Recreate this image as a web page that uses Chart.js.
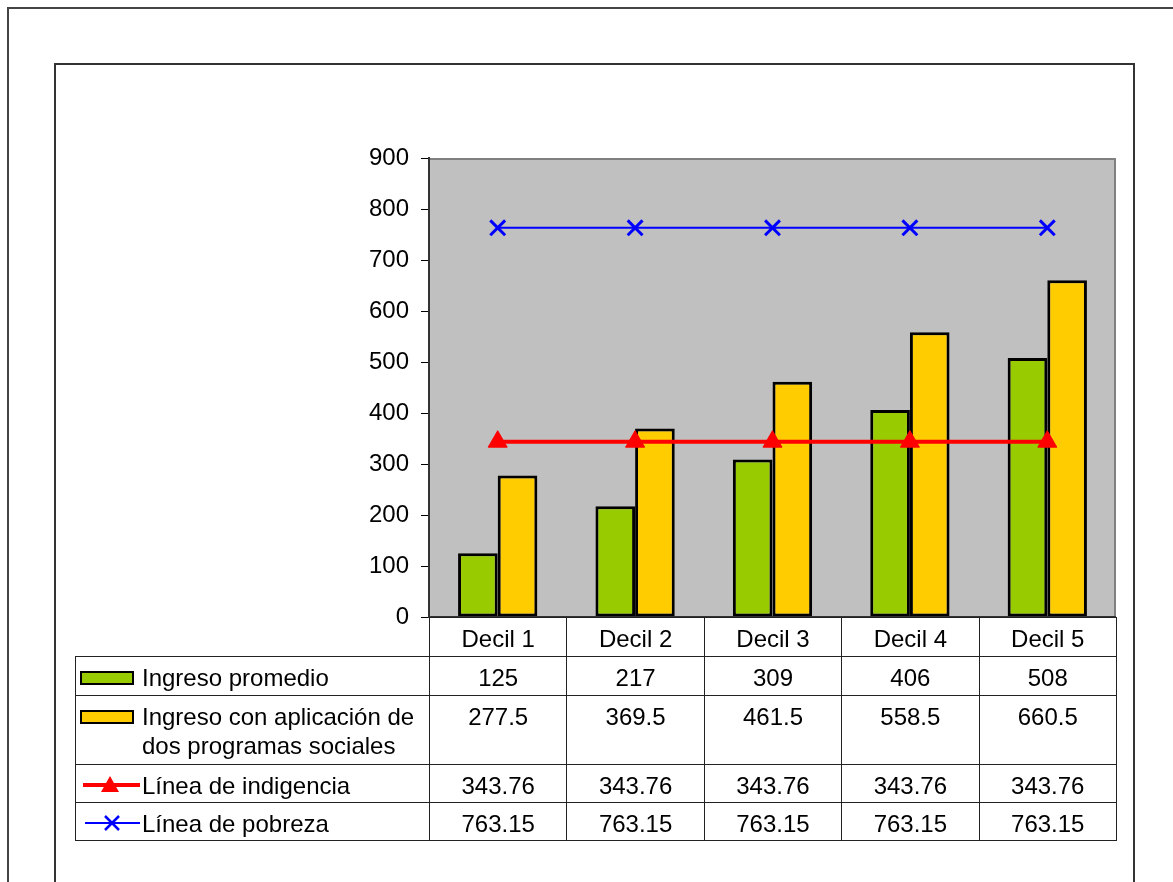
<!DOCTYPE html>
<html>
<head>
<meta charset="utf-8">
<script src="https://cdn.jsdelivr.net/npm/chart.js@4.4.0/dist/chart.umd.min.js"></script>
<style>
    html, body { margin: 0; padding: 0; background: #fff; overflow: hidden; }
    body { width: 1173px; height: 882px; position: relative; font-family: "Liberation Sans", Arial, sans-serif; }
    #marcoExterior { position: absolute; left: 7px; top: 7px; width: 1300px; height: 1000px; border: 2px solid #444; }
    #marcoInterior { position: absolute; left: 54px; top: 63px; width: 1077px; height: 1000px; border: 2px solid #333; }
    #grafico { position: absolute; left: 0; top: 0; }
    #tabla { position: absolute; border-collapse: collapse; table-layout: fixed; font-size: 24px; color: #000; }
    #tabla td { border: 1px solid #222; padding: 6px 0 0 0; line-height: 29px; vertical-align: top; text-align: center; box-sizing: border-box; white-space: nowrap; }
    #tabla td.serie { text-align: left; white-space: normal; }
    #tabla td.vacia { border-top: none; border-left: none; }
    .fila-serie { display: flex; align-items: flex-start; padding-left: 4px; }
    .clave { width: 62px; flex: none; }
    .clave-barra { display: block; width: 50px; height: 10px; border: 2.5px solid #000; margin-top: 8px; }
    .clave svg { display: block; margin-top: 4px; }
</style>
</head>
<body>
<div id="marcoExterior"></div>
<div id="marcoInterior"></div>
<canvas id="grafico" width="1173" height="882"></canvas>
<table id="tabla"></table>
<script>
// categorías y series
const categorias = ['Decil 1', 'Decil 2', 'Decil 3', 'Decil 4', 'Decil 5'];
const ingresoPromedio = [125, 217, 309, 406, 508];
const ingresoProgramas = [277.5, 369.5, 461.5, 558.5, 660.5];
const lineaIndigencia = [343.76, 343.76, 343.76, 343.76, 343.76];
const lineaPobreza = [763.15, 763.15, 763.15, 763.15, 763.15];
const nombresSeries = [
    'Ingreso promedio',
    'Ingreso con aplicación de dos programas sociales',
    'Línea de indigencia',
    'Línea de pobreza'
];
const ejeYMin = 0;
const ejeYMax = 900;
const ejeYPaso = 100;

const fuente = { family: 'Liberation Sans, Arial, sans-serif', size: 24 };

// fondo gris del área de trazado y sus bordes
const fondoPlugin = {
    id: 'fondo',
    beforeDraw(chart) {
        const { ctx, chartArea: a } = chart;
        ctx.save();
        ctx.fillStyle = '#C0C0C0';
        ctx.fillRect(a.left, a.top, a.right - a.left, a.bottom - a.top);
        ctx.strokeStyle = '#808080';
        ctx.lineWidth = 2;
        ctx.beginPath();
        ctx.moveTo(a.left, a.top + 1);
        ctx.lineTo(a.right - 1, a.top + 1);
        ctx.lineTo(a.right - 1, a.bottom);
        ctx.stroke();
        ctx.restore();
    },
    afterDatasetsDraw(chart) {
        const { ctx, chartArea: a } = chart;
        ctx.save();
        ctx.strokeStyle = '#333';
        ctx.lineWidth = 2;
        ctx.beginPath();
        ctx.moveTo(a.left, a.bottom);
        ctx.lineTo(a.right, a.bottom);
        ctx.stroke();
        ctx.restore();
    }
};

const grafico = new Chart(document.getElementById('grafico'), {
    type: 'bar',
    data: {
        labels: categorias,
        datasets: [
            {
                type: 'line',
                label: nombresSeries[2],
                data: lineaIndigencia,
                borderColor: '#FF0000',
                borderWidth: 4,
                pointStyle: 'triangle',
                pointRadius: 11,
                pointBackgroundColor: '#FF0000',
                pointBorderColor: '#FF0000',
                pointBorderWidth: 1,
                tension: 0,
                order: 0
            },
            {
                type: 'line',
                label: nombresSeries[3],
                data: lineaPobreza,
                borderColor: '#0000FF',
                borderWidth: 2,
                pointStyle: 'crossRot',
                pointRadius: 10.5,
                pointBorderColor: '#0000FF',
                pointBorderWidth: 3,
                tension: 0,
                order: 0
            },
            {
                label: nombresSeries[0],
                data: ingresoPromedio,
                backgroundColor: '#99CC00',
                borderColor: '#000',
                borderWidth: 3,
                borderSkipped: false,
                categoryPercentage: 0.577,
                barPercentage: 1,
                order: 1
            },
            {
                label: nombresSeries[1],
                data: ingresoProgramas,
                backgroundColor: '#FFCC00',
                borderColor: '#000',
                borderWidth: 3,
                borderSkipped: false,
                categoryPercentage: 0.577,
                barPercentage: 1,
                order: 1
            }
        ]
    },
    options: {
        responsive: false,
        animation: false,
        layout: { padding: { left: 359, top: 158, right: 57, bottom: 265 } },
        scales: {
            x: { display: false },
            y: {
                min: ejeYMin,
                max: ejeYMax,
                ticks: { stepSize: ejeYPaso, color: '#000', font: fuente, padding: 12 },
                grid: { drawOnChartArea: false, drawTicks: true, tickLength: 8, color: '#000' },
                border: { display: true, color: '#333', width: 2 },
                afterFit(escala) { escala.width = 70; }
            }
        },
        plugins: {
            legend: { display: false },
            tooltip: { enabled: false }
        }
    },
    plugins: [fondoPlugin]
});

// tabla de datos debajo del gráfico, alineada con las categorías del eje x
function claveSerie(i) {
    if (i === 0) return '<span class="clave-barra" style="background:#99CC00"></span>';
    if (i === 1) return '<span class="clave-barra" style="background:#FFCC00"></span>';
    if (i === 2) {
        return '<svg width="60" height="20"><line x1="3" y1="10" x2="62" y2="10" stroke="#FF0000" stroke-width="4"/>' +
            '<polygon points="30,1 39,17 21,17" fill="#FF0000"/></svg>';
    }
    return '<svg width="60" height="20"><line x1="5" y1="10" x2="60" y2="10" stroke="#0000FF" stroke-width="2"/>' +
        '<line x1="25" y1="3" x2="39" y2="17" stroke="#0000FF" stroke-width="2.5"/>' +
        '<line x1="39" y1="3" x2="25" y2="17" stroke="#0000FF" stroke-width="2.5"/></svg>';
}

function construirTabla() {
    const a = grafico.chartArea;
    const escalaX = grafico.scales.x;
    const tabla = document.getElementById('tabla');
    const inicioTabla = 75;
    const anchoPrimera = a.left - inicioTabla;
    const anchoCategoria = (a.right - a.left) / categorias.length;
    const series = [ingresoPromedio, ingresoProgramas, lineaIndigencia, lineaPobreza];
    const altos = [39, 69, 38, 38];

    let html = '<colgroup><col style="width:' + anchoPrimera + 'px">';
    categorias.forEach(() => { html += '<col style="width:' + anchoCategoria + 'px">'; });
    html += '</colgroup>';

    html += '<tr style="height:39px"><td class="vacia"></td>';
    categorias.forEach(c => { html += '<td>' + c + '</td>'; });
    html += '</tr>';

    series.forEach((datos, i) => {
        html += '<tr style="height:' + altos[i] + 'px"><td class="serie"><div class="fila-serie">' +
            '<span class="clave">' + claveSerie(i) + '</span><span>' + nombresSeries[i] + '</span></div></td>';
        datos.forEach(v => { html += '<td>' + v + '</td>'; });
        html += '</tr>';
    });
    tabla.innerHTML = html;
    tabla.style.width = (anchoPrimera + anchoCategoria * categorias.length) + 'px';
    tabla.style.left = (escalaX.left - anchoPrimera) + 'px';
    tabla.style.top = a.bottom + 'px';
}

construirTabla();
</script>
</body>
</html>
